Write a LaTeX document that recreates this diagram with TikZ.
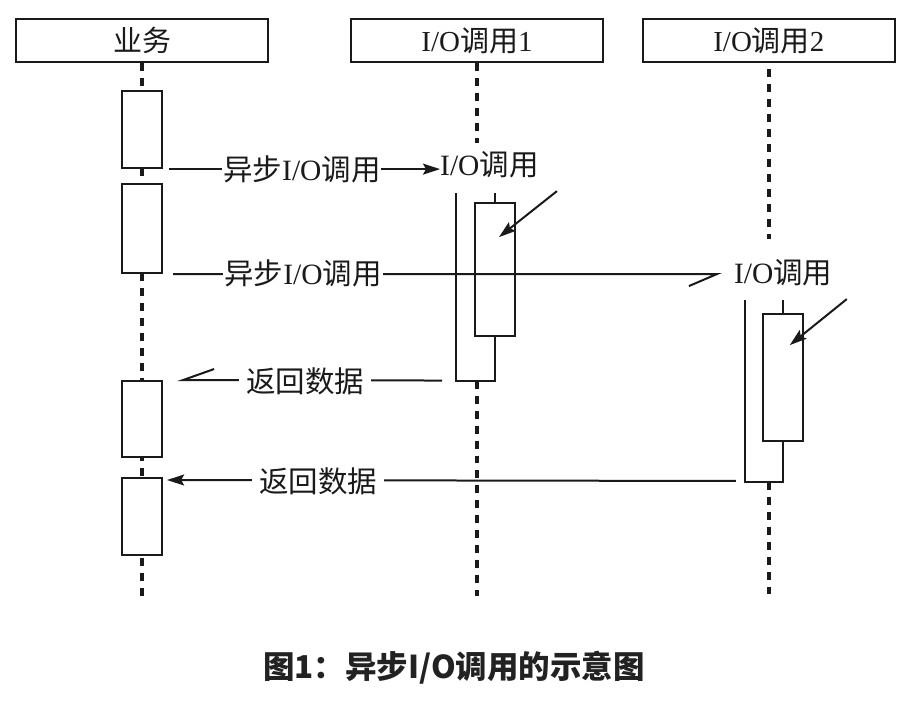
\documentclass[tikz,border=0pt]{standalone}
\usepackage{fontspec}
\setmainfont{Liberation Serif}
\newfontfamily\cjk{Noto Sans CJK SC}
\usetikzlibrary{arrows.meta,calc}
\newcommand{\zh}[1]{{\cjk #1}}
\definecolor{ink}{HTML}{1A1A1A}
\definecolor{capink}{HTML}{222222}
\begin{document}
\begin{tikzpicture}[x=1pt,y=-1pt,
  every path/.style={draw=ink},
  thin line/.style={line width=2pt},
  hdr/.style={draw=ink, line width=2.2pt, fill=white, minimum width=252pt, minimum height=43pt, inner sep=0pt, font=\fontsize{29}{32}\selectfont, text=ink},
  act/.style={draw=ink, line width=2pt, fill=white, minimum width=40pt, inner sep=0pt},
  life/.style={draw=ink, line width=3.4pt, dash pattern=on 8pt off 7pt},
  lbl/.style={fill=white, inner sep=1pt, font=\fontsize{29.5}{32}\selectfont, text=ink},
  tip/.style={-{Stealth[length=17pt,width=11pt,inset=3pt]}}
]
\useasboundingbox (0,0) rectangle (908,706);
\fill[white] (0,0) rectangle (908,706);

% headers
\node[hdr] (h0) at (142,40.5) {\zh{业务}};
\node[hdr] (h1) at (477,40.5) {I/O\zh{调用}1};
\node[hdr] (h2) at (769,40.5) {I/O\zh{调用}2};

% lifelines
\coordinate (l0e) at (142,596);
\draw[life] (h0.south) -- (l0e);
\coordinate (l1a) at (477,143);
\draw[life] (h1.south) -- (l1a);
\coordinate (l2a) at (769,239);
\draw[life] ($(h2.south)+(0,6)$) -- (l2a);

% business activations
\node[act, minimum height=77pt] (A) at (142,129.5) {};
\node[act, minimum height=89pt] (B) at (142,228.5) {};
\node[act, minimum height=76pt] (C) at (142,419) {};
\node[act, minimum height=77pt] (D) at (142,516.5) {};

% I/O call 1
\node[act, minimum height=133pt] (io1) at (495,269.5) {};
\coordinate (io1tl) at (456,193);
\coordinate (io1bl) at (456,380.5);
\coordinate (io1br) at (495,380.5);
\coordinate (io1t) at (495,193);
\draw[thin line] (io1tl) -- (io1bl) -- (io1br) -- (io1.south);
\draw[thin line] (io1t) -- (io1.north);
\coordinate (io1b) at (477,380.5);
\coordinate (l1e) at (477,596);
\draw[life] (io1b) -- (l1e);
\coordinate (p1s) at (557,191);
\coordinate (p1e) at (499,237);
\draw[thin line, tip, fill=ink] (p1s) -- (p1e);

% I/O call 2
\node[act, minimum height=127pt] (io2) at (783,377.5) {};
\coordinate (io2tl) at (745,300);
\coordinate (io2bl) at (745,482);
\coordinate (io2br) at (783,482);
\coordinate (io2t) at (783,300);
\draw[thin line] (io2tl) -- (io2bl) -- (io2br) -- (io2.south);
\draw[thin line] (io2t) -- (io2.north);
\coordinate (io2b) at (769,482);
\coordinate (l2e) at (769,594);
\draw[life] (io2b) -- (l2e);
\coordinate (p2s) at (847,299);
\coordinate (p2e) at (790,345);
\draw[thin line, tip, fill=ink] (p2s) -- (p2e);

% message 1
\node[lbl, anchor=west, inner sep=0pt] (L1) at (440,165) {I/O\zh{调用}};
\coordinate (m1s) at ($(A.south east)+(6,0)$);
\draw[thin line, tip, fill=ink] (m1s) -- (m1s -| L1.west)
  node[lbl, pos=0.49] (t1) {\zh{异步}I/O\zh{调用}};

% message 2 (half arrow)
\node[lbl, anchor=west, inner sep=0pt] (L2) at (734,273) {I/O\zh{调用}};
\coordinate (m2s) at ($(B.south east)+(10,0)$);
\coordinate (m2e) at ($(m2s -| L2.west)+(-17,0)$);
\draw[thin line] (m2s) -- (m2e) -- ++(-28,12);
\node[lbl] (t2) at (303,273) {\zh{异步}I/O\zh{调用}};

% return 1 (half arrow)
\coordinate (r1s) at ($(io1bl)+(-14,0)$);
\coordinate (r1e) at ($(C.north east)+(20,0)$);
\draw[thin line] (r1s) -- (r1e) -- ++(31,-11);
\node[lbl, inner sep=7pt] (t3) at (305,381) {\zh{返回数据}};

% return 2
\coordinate (r2s) at ($(io2bl)+(-9,-1)$);
\coordinate (r2e) at ($(D.north east)+(4,3)$);
\draw[thin line, tip, fill=ink] (r2s) -- (r2e);
\node[lbl, inner sep=7pt] (t4) at (318,481) {\zh{返回数据}};

% caption
\node[text=capink, font=\cjk\bfseries\fontsize{31.5}{34}\selectfont] (cap) at (454,668) {图1：异步I/O调用的示意图};
\end{tikzpicture}
\end{document}
